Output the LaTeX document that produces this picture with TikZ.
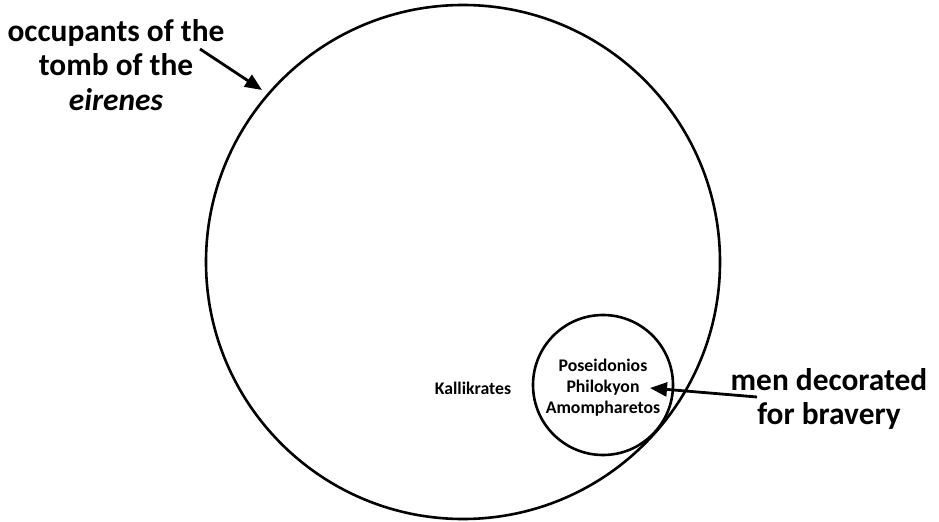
\documentclass[tikz,border=0pt]{standalone}
\usepackage{fontspec}
\setmainfont{Carlito}
\usetikzlibrary{arrows.meta}
\begin{document}
\begin{tikzpicture}[x=1bp,y=-1bp,
  ring/.style={draw,line width=2.6bp,circle,inner sep=0pt},
  biglabel/.style={font=\bfseries\fontsize{31.5}{35}\selectfont,align=center,inner sep=0pt},
  namelabel/.style={font=\bfseries\fontsize{17.8}{21}\selectfont,align=center,inner sep=0pt},
  pointer/.style={line width=2.8bp,-{Triangle[length=17bp,width=14bp]}}]
\useasboundingbox (0,0) rectangle (939,522);
\node[ring,minimum size=514bp] (big) at (463,262) {};
\node[ring,minimum size=140bp] (small) at (603,385) {};
\node[namelabel] (names) at (603,388) {Poseidonios\\Philokyon\\Amompharetos};
\node[namelabel] (kal) at (473,388) {Kallikrates};
\node[biglabel] (occ) at (116,65) {occupants of the\\tomb of the\\\textit{eirenes}};
\node[biglabel] (men) at (829,399) {men decorated\\for bravery};
\coordinate (s1) at (200,49);
\coordinate (t1) at (262,90);
\draw[pointer] (s1) -- (t1);
\coordinate (s2) at (757,397);
\coordinate (t2) at (650,388);
\draw[pointer] (s2) -- (t2);
\end{tikzpicture}
\end{document}
